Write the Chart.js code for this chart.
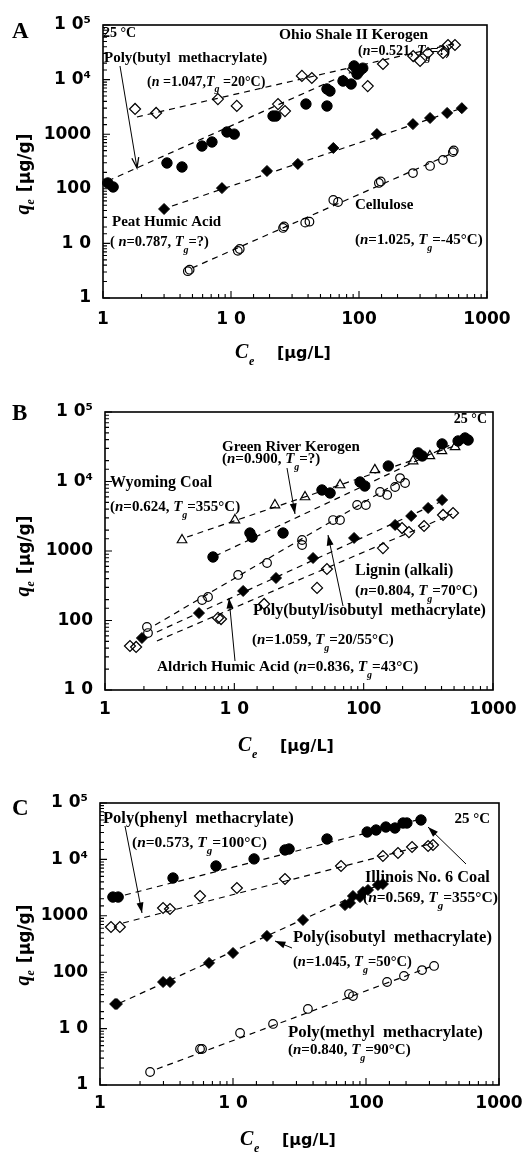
<!DOCTYPE html>
<html><head><meta charset="utf-8">
<script src="https://cdn.jsdelivr.net/npm/chart.js@4/dist/chart.umd.min.js"></script>
<style>
html,body{margin:0;padding:0;background:#fff;}
#wrap{position:relative;width:526px;height:1155px;overflow:hidden;background:#fff;}
canvas{position:absolute;left:0;}
</style></head><body>
<div id="wrap">
<canvas id="cA" width="526" height="380" style="top:0px"></canvas>
<canvas id="cB" width="526" height="390" style="top:380px"></canvas>
<canvas id="cC" width="526" height="385" style="top:770px"></canvas>
</div>
<script>
// ---------- tick labels ----------
const xTickValues = [1, 10, 100, 1000];
const xTickLabels = ['1', '1 0', '100', '1000'];
const yTickValuesA = [1, 10, 100, 1000, 1e4, 1e5];
const yTickLabelsA = ['1', '1 0', '100', '1000', '1 0\u2074', '1 0\u2075'];
const yTickValuesB = [10, 100, 1000, 1e4, 1e5];
const yTickLabelsB = ['1 0', '100', '1000', '1 0\u2074', '1 0\u2075'];
const yTickValuesC = [1, 10, 100, 1000, 1e4, 1e5];
const yTickLabelsC = ['1', '1 0', '100', '1000', '1 0\u2074', '1 0\u2075'];

// ---------- Panel A ----------
const ohioC = [1.78, 2.6, 7.9, 11.1, 23.3, 26.4, 35.8, 42.8, 89.6, 117, 154, 265, 300, 346, 453, 496, 562];
const ohioQ = [2900, 2450, 4400, 3300, 3560, 2650, 11700, 10700, 15600, 7600, 19300, 27000, 22000, 30700, 30700, 43000, 43000];
const ohioFitC = [1.84, 583];
const ohioFitQ = [2065, 46800];

const pbmaC = [1.09, 1.20, 3.16, 4.14, 5.93, 7.1, 9.3, 10.6, 21.3, 22.4, 38.5, 56.2, 56.2, 59.3, 75, 86.8, 91.5, 96.7, 101, 107];
const pbmaQ = [128, 108, 297, 251, 607, 720, 1097, 1003, 2150, 2150, 3570, 3280, 6740, 6170, 9400, 8300, 17800, 12600, 14400, 16200];
const pbmaFitC = [1.09, 115.5];
const pbmaFitQ = [139, 18500];

const peatC = [3.0, 8.5, 19.1, 33.3, 63, 138, 264, 359, 488, 636];
const peatQ = [42.7, 103, 212, 285, 559, 1005, 1530, 1980, 2450, 3000];
const peatFitC = [3.46, 636];
const peatFitQ = [48.4, 3000];

const celluloseC = [4.6, 4.75, 11.3, 11.7, 25.5, 26, 38, 41, 63, 68.6, 143, 148, 264, 359, 453, 541, 550];
const celluloseQ = [3.1, 3.3, 7.3, 7.9, 19.2, 20.5, 24, 25, 62.4, 57.3, 128, 136, 194, 262, 337, 470, 505];
const celluloseFitC = [4.96, 542];
const celluloseFitQ = [3.54, 453];

// ---------- Panel B ----------
const wyoC = [3.94, 10.1, 20.6, 35.2, 65.7, 122, 241, 325, 403, 509];
const wyoQ = [1440, 2790, 4580, 5980, 8900, 14700, 19700, 23300, 27500, 31500];
const wyoFitC = [4.31, 588];
const wyoFitQ = [1590, 35800];

const grkC = [6.84, 13.2, 13.7, 23.8, 47.6, 55, 93.8, 102, 155, 264, 284, 404, 537, 608, 642];
const grkQ = [820, 1815, 1590, 1815, 7550, 6830, 9840, 8610, 16700, 25800, 23300, 34700, 38300, 42300, 39500];
const grkFitC = [7.1, 631];
const grkFitQ = [847, 43700];

const pbibC = [2.11, 2.15, 5.63, 6.26, 10.7, 17.9, 33.4, 33.4, 58, 65.6, 89, 104, 134, 152, 175, 191, 209];
const pbibQ = [80.6, 66, 197, 218, 452, 672, 1440, 1220, 2790, 2790, 4590, 4590, 7060, 6400, 8330, 11200, 9510];
const pbibFitC = [2.44, 209];
const pbibFitQ = [86, 11200];

const aldC = [1.93, 5.33, 11.7, 21, 40.6, 84.3, 175, 233, 315, 404];
const aldQ = [56, 128, 266, 409, 793, 1540, 2370, 3190, 4160, 5420];
const aldFitC = [2.52, 389];
const aldFitQ = [68.4, 5070];

const ligC = [1.56, 1.74, 7.48, 7.89, 17, 43.6, 52, 141, 198, 224, 293, 411, 491];
const ligQ = [43, 41.6, 109, 105, 173, 294, 551, 1100, 2140, 1870, 2290, 3300, 3520];
const ligFitC = [2.52, 483];
const ligFitQ = [50.7, 3400];

// ---------- Panel C ----------
const illC = [1.25, 1.37, 3.54, 7.45, 14.4, 24.6, 26.4, 50.9, 102, 119, 141, 165, 190, 203, 259];
const illQ = [2150, 2150, 4680, 7640, 10200, 14700, 15300, 23000, 30600, 33200, 37500, 36000, 44200, 44200, 50000];
const illFitC = [1.54, 242];
const illFitQ = [2340, 50000];

const pphC = [1.21, 1.41, 2.98, 3.36, 5.65, 10.7, 24.6, 64.9, 134, 174, 222, 293, 319];
const pphQ = [633, 633, 1375, 1320, 2245, 3110, 4490, 7640, 11500, 13000, 16600, 17300, 18000];
const pphFitC = [1.49, 319];
const pphFitQ = [745, 19500];

const pibC = [1.30, 1.34, 2.98, 3.36, 6.6, 10.0, 18, 33.6, 69.5, 75.8, 79.8, 90.1, 94.9, 103.5, 123, 134];
const pibQ = [27.3, 27.3, 67, 67, 146, 219, 439, 843, 1550, 1690, 2245, 2150, 2640, 2870, 3520, 3660];
const pibFitC = [1.41, 134];
const pibFitQ = [28.4, 3820];

const pmmaC = [2.38, 5.65, 5.85, 11.3, 20, 36.6, 74.5, 79.8, 144, 193, 264, 325];
const pmmaQ = [1.70, 4.35, 4.35, 8.36, 12.1, 22.3, 41, 37.8, 67, 85.7, 109, 129];
const pmmaFitC = [2.68, 303];
const pmmaFitQ = [1.92, 124];

// ---------- helpers ----------
const pts = (xs, ys) => xs.map((x, i) => ({x: x, y: ys[i]}));
const isPow10 = v => Math.abs(Math.log10(v) - Math.round(Math.log10(v))) < 1e-9;
function labelFor(values, labels) {
  return function (v) {
    for (let i = 0; i < values.length; i++) {
      if (Math.abs(Math.log10(v) - Math.log10(values[i])) < 1e-9) return labels[i];
    }
    return '';
  };
}
const NONE = 'rgba(0,0,0,0)';
function marker(xs, ys, style, filled, r) {
  return {
    data: pts(xs, ys), showLine: false, clip: false,
    pointStyle: style, pointRadius: r, pointHoverRadius: r,
    pointBackgroundColor: filled ? '#000' : NONE,
    pointBorderColor: '#000', pointBorderWidth: filled ? 1 : 1.2
  };
}
function fit(xs, ys) {
  return {
    data: pts(xs, ys), showLine: true, clip: false,
    borderColor: '#000', borderWidth: 1.2, borderDash: [6, 5],
    pointRadius: 0, pointHoverRadius: 0, fill: false
  };
}

const R = t => ({t: t, k: 'r'});
const I = t => ({t: t, k: 'i'});
const S = t => ({t: t, k: 's'});

function drawRich(ctx, x, y, segs, fs, align) {
  const fonts = {
    r: 'bold ' + fs + 'px "Liberation Serif"',
    i: 'italic bold ' + fs + 'px "Liberation Serif"',
    s: 'italic bold ' + Math.round(fs * 0.68) + 'px "Liberation Serif"'
  };
  let w = 0;
  for (const s of segs) { ctx.font = fonts[s.k]; w += ctx.measureText(s.t).width; }
  let cx = align === 'right' ? x - w : x;
  for (const s of segs) {
    ctx.font = fonts[s.k];
    ctx.fillText(s.t, cx, y + (s.k === 's' ? Math.round(fs * 0.45) : 0));
    cx += ctx.measureText(s.t).width;
  }
}

function arrow(ctx, x1, y1, x2, y2, filled) {
  const ang = Math.atan2(y2 - y1, x2 - x1);
  const L = 11, hw = 0.32;
  ctx.beginPath();
  ctx.moveTo(x1, y1);
  ctx.lineTo(x2, y2);
  ctx.lineWidth = 1;
  ctx.stroke();
  const ax = x2 - L * Math.cos(ang - hw), ay = y2 - L * Math.sin(ang - hw);
  const bx = x2 - L * Math.cos(ang + hw), by = y2 - L * Math.sin(ang + hw);
  ctx.beginPath();
  if (filled) {
    ctx.moveTo(x2, y2); ctx.lineTo(ax, ay); ctx.lineTo(bx, by); ctx.closePath(); ctx.fill();
  } else {
    ctx.moveTo(ax, ay); ctx.lineTo(x2, y2); ctx.lineTo(bx, by); ctx.lineWidth = 1.3; ctx.stroke();
  }
}

function yTitle(ctx, cx, cy) {
  ctx.save();
  ctx.translate(cx, cy);
  ctx.rotate(-Math.PI / 2);
  const fq = 'italic bold 20px "Liberation Serif"';
  const fe = 'italic bold 12px "Liberation Serif"';
  const fb = 'bold 17px "DejaVu Sans"';
  ctx.font = fq; const wq = ctx.measureText('q').width;
  ctx.font = fe; const we = ctx.measureText('e').width;
  ctx.font = fb; const wb = ctx.measureText('[\u00b5g/g]').width;
  const gap = 7;
  const total = wq + we + gap + wb;
  let x = -total / 2;
  ctx.textBaseline = 'alphabetic';
  ctx.font = fq; ctx.fillText('q', x, 5); x += wq;
  ctx.font = fe; ctx.fillText('e', x, 10); x += we + gap;
  ctx.font = fb; ctx.fillText('[\u00b5g/g]', x, 6);
  ctx.restore();
}

function xTitle(ctx, x, y) {
  ctx.save();
  ctx.textBaseline = 'alphabetic';
  ctx.font = 'italic bold 20px "Liberation Serif"';
  ctx.fillText('C', x, y);
  ctx.font = 'italic bold 12px "Liberation Serif"';
  ctx.fillText('e', x + 14, y + 7);
  ctx.font = 'bold 16px "DejaVu Sans"';
  ctx.fillText('[\u00b5g/L]', x + 42, y);
  ctx.restore();
}

const frameTicks = {
  id: 'frameTicks',
  afterDatasetsDraw(chart) {
    const ctx = chart.ctx, a = chart.chartArea, x = chart.scales.x, y = chart.scales.y;
    ctx.save();
    ctx.strokeStyle = '#000';
    ctx.lineWidth = 1.1;
    ctx.beginPath();
    for (const t of y.ticks) {
      const p = y.getPixelForValue(t.value);
      const L = isPow10(t.value) ? 7 : 4;
      ctx.moveTo(a.left, p); ctx.lineTo(a.left + L, p);
    }
    for (const t of x.ticks) {
      const p = x.getPixelForValue(t.value);
      const L = isPow10(t.value) ? 7 : 4;
      ctx.moveTo(p, a.bottom); ctx.lineTo(p, a.bottom - L);
    }
    ctx.stroke();
    ctx.lineWidth = 1.6;
    ctx.strokeRect(a.left, a.top, a.right - a.left, a.bottom - a.top);
    ctx.restore();
  }
};

function makePanel(id, p) {
  const canvas = document.getElementById(id);
  const H = canvas.height;
  const deco = {
    id: 'deco_' + id,
    afterDraw(chart) {
      const ctx = chart.ctx;
      ctx.save();
      ctx.translate(0, -p.top);
      ctx.fillStyle = '#000';
      ctx.strokeStyle = '#000';
      ctx.textBaseline = 'alphabetic';
      ctx.font = 'bold 23px "Liberation Serif"';
      ctx.fillText(p.letter, p.letterX, p.letterY);
      for (const t of p.texts) drawRich(ctx, t.x, t.y, t.segs, t.fs || 15, t.align);
      for (const ar of p.arrows) arrow(ctx, ar[0], ar[1], ar[2], ar[3], ar[4]);
      yTitle(ctx, p.yTitle[0], p.yTitle[1]);
      xTitle(ctx, p.xTitle[0], p.xTitle[1]);
      ctx.restore();
    }
  };
  const tickFont = {family: 'DejaVu Sans', weight: 'bold', size: 17};
  return new Chart(canvas, {
    type: 'scatter',
    data: {datasets: p.datasets},
    options: {
      responsive: false, animation: false, events: [],
      layout: {padding: {left: 0, right: 526 - p.area.right, top: p.area.top - p.top, bottom: 0}},
      plugins: {legend: {display: false}, tooltip: {enabled: false}},
      scales: {
        x: {
          type: 'logarithmic', position: 'bottom', min: 1, max: 1000,
          grid: {display: false, drawTicks: false}, border: {display: false},
          ticks: {autoSkip: false, maxRotation: 0, minRotation: 0, padding: p.xPad, color: '#000',
                  font: tickFont, callback: labelFor(xTickValues, xTickLabels)},
          afterFit(s) { s.height = H - (p.area.bottom - p.top); s.paddingLeft = 0; s.paddingRight = 0; }
        },
        y: {
          type: 'logarithmic', position: 'left', min: p.yMin, max: 1e5,
          grid: {display: false, drawTicks: false}, border: {display: false},
          ticks: {autoSkip: false, padding: 12, color: '#000', font: tickFont,
                  callback: labelFor(p.yVals, p.yLabels)},
          afterFit(s) { s.width = p.area.left; s.paddingTop = 0; s.paddingBottom = 0; }
        }
      }
    },
    plugins: [frameTicks, deco]
  });
}

const par = (n, tg, sp) => [R('('), I('n'), R('=' + n + ',' + (sp === undefined ? ' ' : sp)), I('T'), S('g'), R('=' + tg + ')')];

// Panel A
makePanel('cA', {
  top: 0, area: {left: 103, right: 487, top: 25, bottom: 298},
  yMin: 1, yVals: yTickValuesA, yLabels: yTickLabelsA, xPad: 11,
  letter: 'A', letterX: 12, letterY: 38,
  yTitle: [24, 174], xTitle: [235, 358],
  datasets: [
    marker(ohioC, ohioQ, 'rectRot', false, 5.5),
    marker(pbmaC, pbmaQ, 'circle', true, 5.2),
    marker(peatC, peatQ, 'rectRot', true, 5.5),
    marker(celluloseC, celluloseQ, 'circle', false, 4.3),
    fit(ohioFitC, ohioFitQ), fit(pbmaFitC, pbmaFitQ), fit(peatFitC, peatFitQ), fit(celluloseFitC, celluloseFitQ)
  ],
  texts: [
    {x: 103, y: 37, segs: [R('25 \u00b0C')], fs: 14},
    {x: 279, y: 39, segs: [R('Ohio Shale II Kerogen')], fs: 15.5},
    {x: 358, y: 55, segs: par('0.521', '?'), fs: 14},
    {x: 104, y: 62, segs: [R('Poly(butyl  methacrylate)')]},
    {x: 147, y: 86, segs: [R('('), I('n'), R(' =1.047,'), I('T'), S('g'), R(' =20\u00b0C)')], fs: 14},
    {x: 112, y: 226, segs: [R('Peat Humic Acid')]},
    {x: 110, y: 246, segs: [R('( ')].concat(par('0.787', '?').slice(1)), fs: 14.5},
    {x: 355, y: 209, segs: [R('Cellulose')]},
    {x: 355, y: 244, segs: par('1.025', '-45\u00b0C'), fs: 15}
  ],
  arrows: [[120, 66, 137, 168, false]]
});

// Panel B
makePanel('cB', {
  top: 380, area: {left: 105, right: 493, top: 412, bottom: 690},
  yMin: 10, yVals: yTickValuesB, yLabels: yTickLabelsB, xPad: 9,
  letter: 'B', letterX: 12, letterY: 420,
  yTitle: [24, 556], xTitle: [238, 751],
  datasets: [
    marker(wyoC, wyoQ, 'triangle', false, 5.5),
    marker(grkC, grkQ, 'circle', true, 5.2),
    marker(pbibC, pbibQ, 'circle', false, 4.3),
    marker(aldC, aldQ, 'rectRot', true, 5.5),
    marker(ligC, ligQ, 'rectRot', false, 5.5),
    fit(wyoFitC, wyoFitQ), fit(grkFitC, grkFitQ), fit(pbibFitC, pbibFitQ), fit(aldFitC, aldFitQ), fit(ligFitC, ligFitQ)
  ],
  texts: [
    {x: 487, y: 423, segs: [R('25 \u00b0C')], fs: 14, align: 'right'},
    {x: 222, y: 451, segs: [R('Green River Kerogen')], fs: 15},
    {x: 222, y: 463, segs: par('0.900', '?'), fs: 15},
    {x: 110, y: 487, segs: [R('Wyoming Coal')], fs: 16},
    {x: 110, y: 511, segs: par('0.624', '355\u00b0C'), fs: 15},
    {x: 355, y: 575, segs: [R('Lignin (alkali)')], fs: 16},
    {x: 355, y: 595, segs: par('0.804', '70\u00b0C'), fs: 15},
    {x: 253, y: 615, segs: [R('Poly(butyl/isobutyl  methacrylate)')], fs: 16},
    {x: 252, y: 644, segs: par('1.059', '20/55\u00b0C'), fs: 15},
    {x: 157, y: 671, segs: [R('Aldrich Humic Acid ')].concat(par('0.836', '43\u00b0C')), fs: 15.3}
  ],
  arrows: [[287, 468, 295, 514, true], [235, 661, 229, 598, true], [343, 606, 328, 535, true]]
});

// Panel C
makePanel('cC', {
  top: 770, area: {left: 100, right: 499, top: 803, bottom: 1085},
  yMin: 1, yVals: yTickValuesC, yLabels: yTickLabelsC, xPad: 8,
  letter: 'C', letterX: 12, letterY: 815,
  yTitle: [24, 945], xTitle: [240, 1145],
  datasets: [
    marker(illC, illQ, 'circle', true, 5.2),
    marker(pphC, pphQ, 'rectRot', false, 5.5),
    marker(pibC, pibQ, 'rectRot', true, 5.5),
    marker(pmmaC, pmmaQ, 'circle', false, 4.3),
    fit(illFitC, illFitQ), fit(pphFitC, pphFitQ), fit(pibFitC, pibFitQ), fit(pmmaFitC, pmmaFitQ)
  ],
  texts: [
    {x: 490, y: 823, segs: [R('25 \u00b0C')], fs: 15, align: 'right'},
    {x: 103, y: 823, segs: [R('Poly(phenyl  methacrylate)')], fs: 16.5},
    {x: 132, y: 847, segs: par('0.573', '100\u00b0C'), fs: 15.5},
    {x: 365, y: 882, segs: [R('Illinois No. 6 Coal')], fs: 16.3},
    {x: 363, y: 902, segs: par('0.569', '355\u00b0C'), fs: 15.5},
    {x: 293, y: 942, segs: [R('Poly(isobutyl  methacrylate)')], fs: 16.5},
    {x: 293, y: 966, segs: par('1.045', '50\u00b0C'), fs: 14.5},
    {x: 288, y: 1037, segs: [R('Poly(methyl  methacrylate)')], fs: 16.8},
    {x: 288, y: 1054, segs: par('0.840', '90\u00b0C'), fs: 15}
  ],
  arrows: [[125, 826, 142, 913, true], [466, 864, 428, 827, true], [292, 948, 275, 941, true]]
});
</script>
</body></html>
